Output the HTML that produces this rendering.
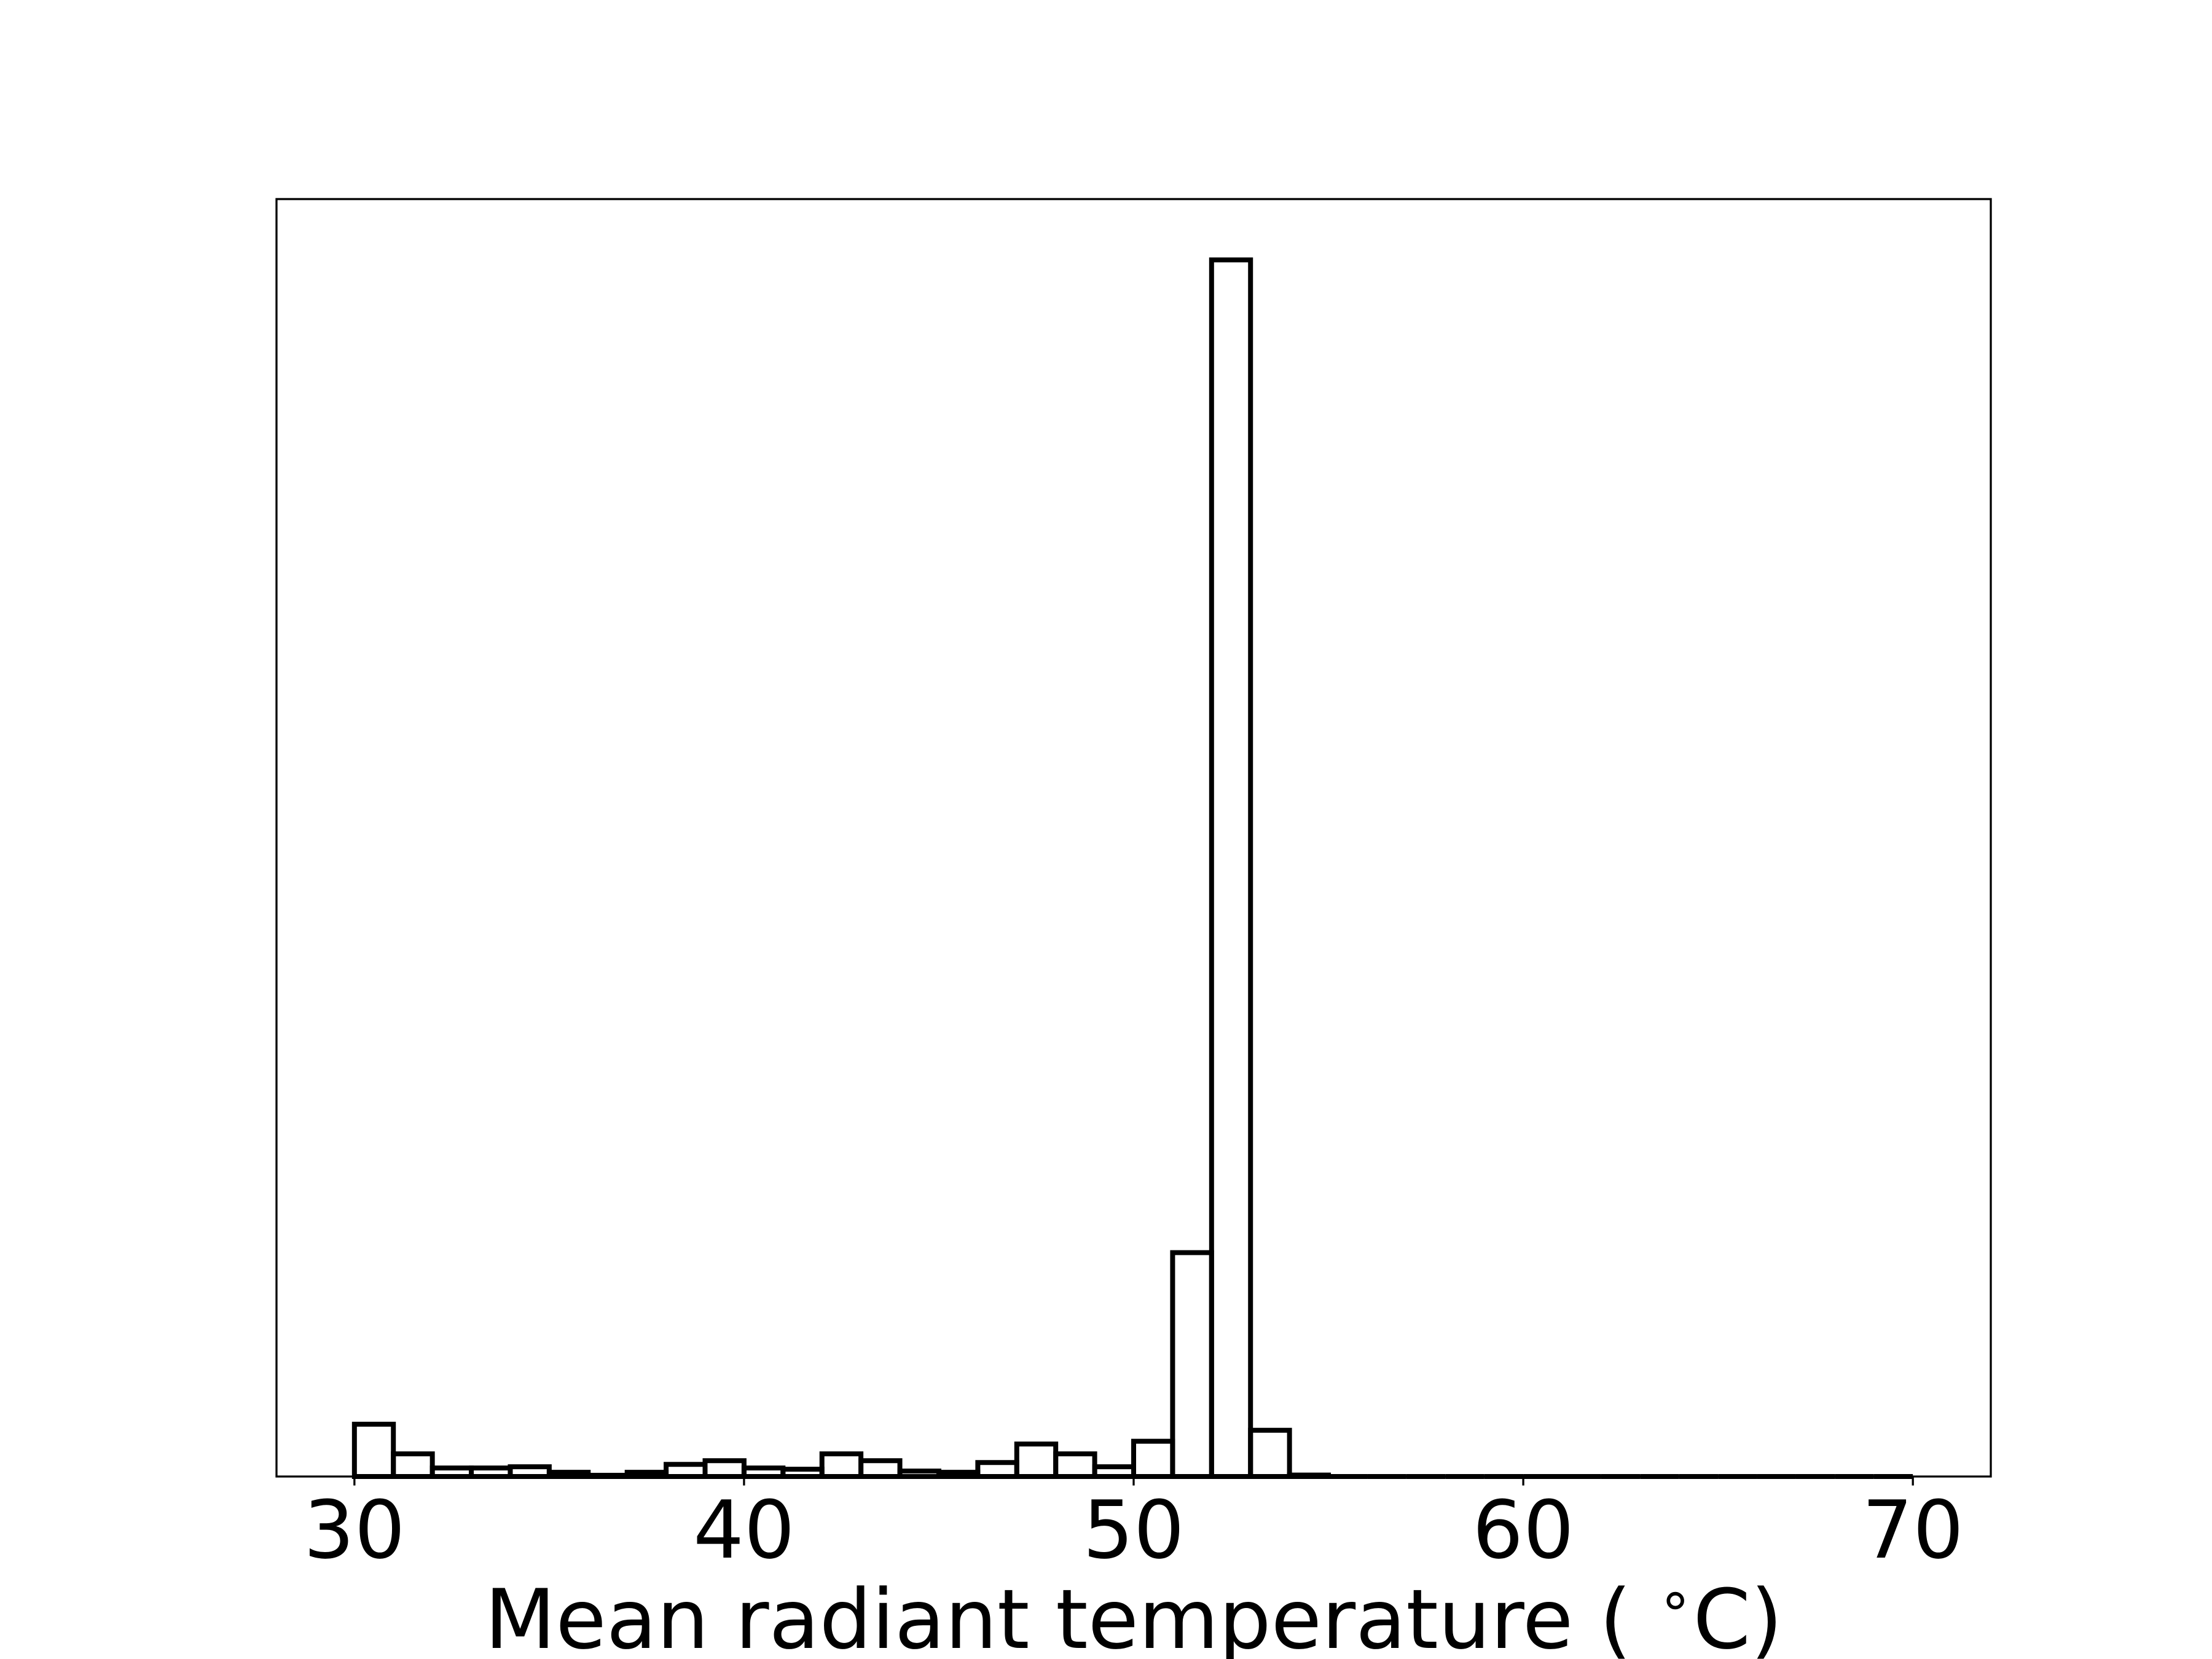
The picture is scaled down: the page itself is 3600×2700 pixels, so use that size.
<!DOCTYPE html>
<html><head><meta charset="utf-8">
<style>
html,body{margin:0;padding:0;background:#fff;}
svg{display:block;}
text{font-family:"DejaVu Sans","Liberation Sans",sans-serif;fill:#000;}
</style></head>
<body>
<svg id="chart" width="3600" height="2700" viewBox="0 0 3600 2700" xmlns="http://www.w3.org/2000/svg">
<rect x="0" y="0" width="3600" height="2700" fill="#fff"/>
<g id="bars"></g>
<rect x="450" y="324" width="2790" height="2079" fill="none" stroke="#000" stroke-width="3.3"/>
<g id="xticks"></g>
<text x="1845" y="2682" text-anchor="middle" font-size="134" xml:space="preserve">Mean radiant temperature ( <tspan font-size="92" dy="-48">∘</tspan><tspan dy="48">C)</tspan></text>
</svg>
<script>
const binStarts = [30,31,32,33,34,35,36,37,38,39,40,41,42,43,44,45,46,47,48,49,50,51,52,53,54,55,56,57,58,59,60,61,62,63,64,65,66,67,68,69];
const counts = [4.3,1.86,0.7,0.7,0.8,0.35,0.1,0.35,1.0,1.3,0.7,0.6,1.86,1.3,0.45,0.35,1.15,2.67,1.86,0.8,2.9,18.4,100,3.8,0.12,0,0,0,0,0,0,0,0,0,0,0,0,0,0,0];
const binWidth = 1;
const xTicks = [30,40,50,60,70];

const X0=450, X1=3240, Y0=324, Y1=2403;
const xMin=28, xMax=72;
const yMax = Math.max(...counts)*1.05;
const xs = v => X0 + (v-xMin)/(xMax-xMin)*(X1-X0);
const ys = v => Y1 - v/yMax*(Y1-Y0);
const NS="http://www.w3.org/2000/svg";
const bars=document.getElementById('bars');
binStarts.forEach((b,i)=>{
  const p=document.createElementNS(NS,'path');
  const x=xs(b), x2=xs(b+binWidth), y=ys(counts[i]);
  p.setAttribute('d',`M${x},${Y1} L${x},${y} L${x2},${y} L${x2},${Y1} Z`);
  p.setAttribute('fill','none');p.setAttribute('stroke','#000');p.setAttribute('stroke-width','8');
  p.setAttribute('stroke-linejoin','miter');
  
  
  bars.appendChild(p);
});
const xt=document.getElementById('xticks');
xTicks.forEach(t=>{
  const l=document.createElementNS(NS,'line');
  l.setAttribute('x1',xs(t));l.setAttribute('x2',xs(t));
  l.setAttribute('y1',Y1);l.setAttribute('y2',Y1+14.6);
  l.setAttribute('stroke','#000');l.setAttribute('stroke-width','3.3');
  
  
  xt.appendChild(l);
  const tx=document.createElementNS(NS,'text');
  tx.setAttribute('x',xs(t));tx.setAttribute('y',2535);
  tx.setAttribute('text-anchor','middle');tx.setAttribute('font-size','130');
  tx.textContent=t;
  
  
  xt.appendChild(tx);
});
</script>
</body></html>
